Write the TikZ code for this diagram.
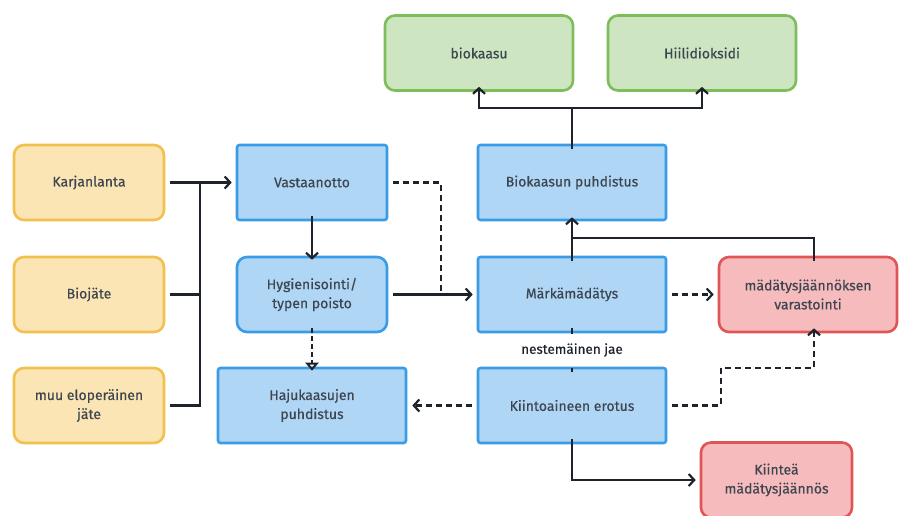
\documentclass[tikz,border=0pt]{standalone}
\usepackage{fontspec}
\setmainfont{Fira Sans}[UprightFeatures={FakeBold=0.35}]
\usetikzlibrary{arrows.meta}
\definecolor{yfill}{HTML}{FCE5B4}
\definecolor{ydraw}{HTML}{F2C04C}
\definecolor{bfill}{HTML}{AFD6F4}
\definecolor{bdraw}{HTML}{3A9BE6}
\definecolor{gfill}{HTML}{CDE6C1}
\definecolor{gdraw}{HTML}{7DBE5B}
\definecolor{rfill}{HTML}{F6BBBC}
\definecolor{rdraw}{HTML}{E05657}
\definecolor{txt}{HTML}{3D4550}
\definecolor{ln}{HTML}{1E232B}
\tikzset{
  x=1pt, y=-1pt,
  box/.style={draw, line width=2.6pt, minimum width=#1, minimum height=75pt, align=center,
    text=txt, font=\fontsize{14}{19}\selectfont, inner sep=2pt},
  box/.default=150pt,
  ybox/.style={box=150pt, fill=yfill, draw=ydraw, rounded corners=10pt},
  bbox/.style={box=#1, fill=bfill, draw=bdraw, rounded corners=2.5pt},
  bbox/.default=150pt,
  brbox/.style={box=150pt, fill=bfill, draw=bdraw, rounded corners=10pt},
  gbox/.style={box=188pt, fill=gfill, draw=gdraw, rounded corners=10pt},
  rbox/.style={box=#1, fill=rfill, draw=rdraw, rounded corners=10pt},
  conn/.style={draw=ln, line width=2.5pt, -{Straight Barb[length=5.5pt,width=12pt,line width=2.2pt]}},
  plain/.style={draw=ln, line width=2.5pt},
  dconn/.style={conn, dash pattern=on 6pt off 4pt},
  dplain/.style={plain, dash pattern=on 6pt off 4pt},
}
\begin{document}
\begin{tikzpicture}
\useasboundingbox (0,0) rectangle (899,515);
\clip (0,0) rectangle (899,515);
\fill[white] (0,0) rectangle (899,515);

% nodes
\node[ybox] (karj) at (89,182.5) {Karjanlanta};
\node[ybox] (bio) at (89,294.5) {Biojäte};
\node[ybox] (muu) at (89,405.5) {muu eloperäinen\\jäte};
\node[bbox] (vast) at (312,182.5) {Vastaanotto};
\node[brbox] (hyg) at (312,294.5) {Hygienisointi/\\typen poisto};
\node[bbox=188pt] (haju) at (312,405.5) {Hajukaasujen\\puhdistus};
\node[bbox=188pt] (bpuh) at (572,182.5) {Biokaasun puhdistus};
\node[gbox] (biok) at (479,53) {biokaasu};
\node[gbox] (hiili) at (702,53) {Hiilidioksidi};
\node[bbox=188pt] (mark) at (572,294.5) {Märkämädätys};
\node[rbox=178pt] (var) at (808,294.5) {mädätysjäännöksen\\varastointi};
\node[bbox=188pt] (kiin) at (572,405.5) {Kiintoaineen erotus};
\node[rbox=151pt] (kmj) at (776.5,480) {Kiinteä\\mädätysjäännös};

% coordinates
\coordinate (jx) at (200,182.5);
\coordinate (dx) at (441,182.5);
\coordinate (dxb) at (441,294.5);
\coordinate (split) at (572,108);
\coordinate (sl) at (479,108);
\coordinate (sr) at (702,108);
\coordinate (vtop) at (814,238);
\coordinate (mtop) at (572,238);
\coordinate (kr) at (721,405.5);
\coordinate (kru) at (721,368);
\coordinate (vb) at (814,368);
\coordinate (kb) at (572,480);

% inputs
\draw[plain] ([xshift=5pt]karj.east) -- (jx);
\draw[plain] ([xshift=5pt]bio.east) -- (200,294.5);
\draw[plain] ([xshift=5pt]muu.east) -- (200,405.5) -- (jx);
\draw[conn] (jx) -- ([xshift=-4pt]vast.west);

% Vastaanotto -> Hygienisointi
\draw[conn] ([yshift=5pt]vast.south) -- ([yshift=-4pt]hyg.north);
% Vastaanotto dashed
\draw[dplain] ([xshift=5pt]vast.east) -- (dx) -- (dxb);
% Hyg -> Mark
\draw[conn] ([xshift=5pt]hyg.east) -- ([xshift=-4pt]mark.west);
% Hyg -> Haju dashed open triangle
\draw[draw=ln, line width=2.5pt, dash pattern=on 5pt off 3pt, -{Triangle[open,length=8pt,width=13pt,line width=2pt]}]
  ([yshift=5pt]hyg.south) -- ([yshift=-4pt]haju.north);
% Kiin -> Haju dashed
\draw[dconn] ([xshift=-5pt]kiin.west) -- ([xshift=5pt]haju.east);
% Mark -> var dashed
\draw[dconn] ([xshift=5pt]mark.east) -- ([xshift=-4pt]var.west);
% Mark -> bpuh
\draw[conn] ([yshift=-5pt]mark.north) -- ([yshift=4pt]bpuh.south);
\draw[plain] ([yshift=-5pt]var.north -| vtop) -- (vtop) -- (mtop);
% bpuh -> outputs
\draw[plain] ([yshift=-5pt]bpuh.north) -- (split);
\draw[conn] (split) -- (sl) -- ([yshift=5pt]biok.south);
\draw[conn] (split) -- (sr) -- ([yshift=5pt]hiili.south);
% nestemainen jae
\draw[dplain, line width=2pt] ([yshift=5pt]mark.south) -- ([yshift=-5pt]kiin.north)
  node[midway, fill=white, text=ln, inner xsep=2pt, inner ysep=8pt, font=\fontsize{13.5}{15}\selectfont] (nj) {nestemäinen jae};
% Kiin -> var dashed
\draw[dconn] ([xshift=5pt]kiin.east) -- (kr) -- (kru) -- (vb) -- ([yshift=5pt]var.south -| vb);
% Kiin -> kmj
\draw[conn] ([yshift=5pt]kiin.south) -- (kb) -- ([xshift=-4pt]kmj.west);
\end{tikzpicture}
\end{document}
